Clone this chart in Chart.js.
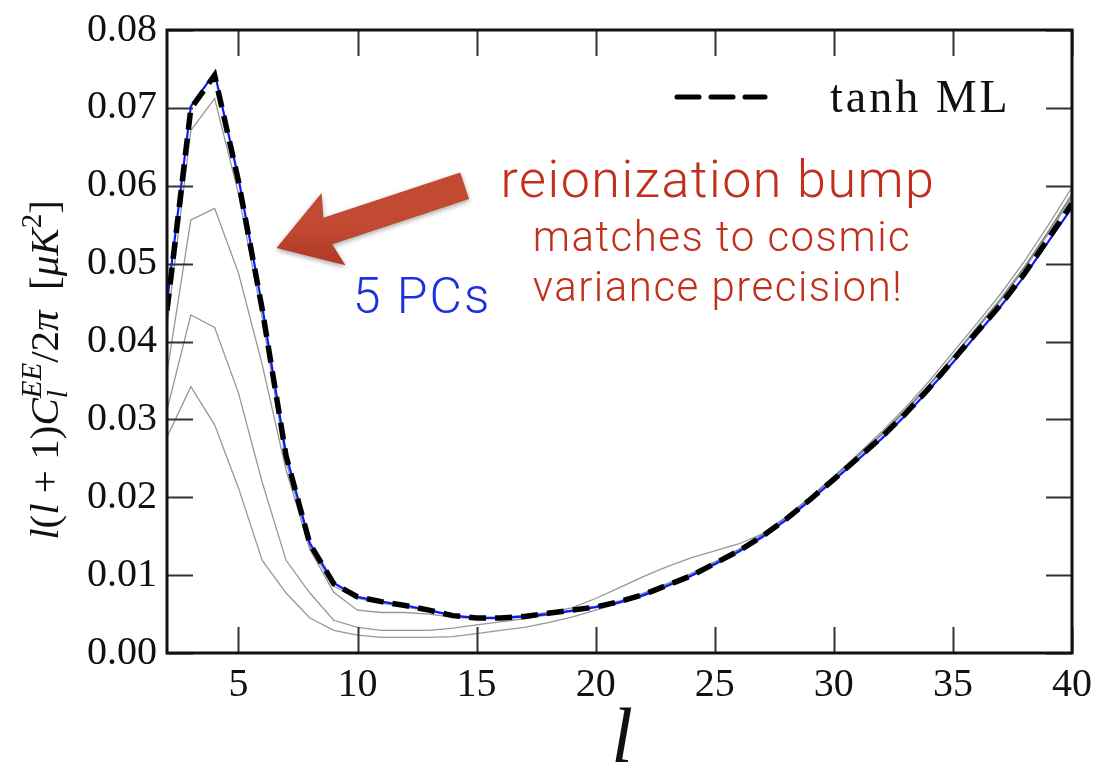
<!DOCTYPE html>
<html lang="en">
<head>
  <meta charset="UTF-8">
  <title>EE reionization bump</title>
  <script src="https://cdn.jsdelivr.net/npm/chart.js"></script>
  <style>
    body { margin: 0; background: #fff; }
    #wrap { width: 1104px; height: 772px; }
  </style>
</head>
<body>
  <div id="wrap"><canvas id="eeChart" width="1104" height="772"></canvas></div>

  <script>
    // multipoles
    const ell = [2, 3, 4, 5, 6, 7, 8, 9, 10, 11, 12, 13, 14, 15, 16, 17, 18, 19, 20,
                 21, 22, 23, 24, 25, 26, 27, 28, 29, 30, 31, 32, 33, 34, 35, 36, 37, 38, 39, 40];

    // l(l+1)C_l^EE/2pi, tanh ML model
    const tanhML = [0.0440, 0.0699, 0.0742, 0.0606, 0.0441, 0.0253, 0.0140, 0.0089, 0.0072,
                    0.0066, 0.0061, 0.0055, 0.0048, 0.0045, 0.0045, 0.0047, 0.0051, 0.0055, 0.0059,
                    0.0066, 0.0075, 0.0087, 0.0099, 0.0115, 0.0131, 0.0150, 0.0172, 0.0197, 0.0223,
                    0.0250, 0.0277, 0.0307, 0.0340, 0.0376, 0.0412, 0.0447, 0.0487, 0.0532, 0.0577];

    // 5 PC reconstruction
    const pc5 = [0.0450, 0.0702, 0.0745, 0.0610, 0.0445, 0.0255, 0.0141, 0.0090, 0.0072,
                 0.0066, 0.0061, 0.0055, 0.0048, 0.0045, 0.0045, 0.0047, 0.0050, 0.0054, 0.0059,
                 0.0065, 0.0074, 0.0086, 0.0099, 0.0114, 0.0130, 0.0149, 0.0171, 0.0196, 0.0222,
                 0.0248, 0.0275, 0.0305, 0.0338, 0.0373, 0.0409, 0.0445, 0.0484, 0.0528, 0.0572];

    // other reionization histories (thin grey)
    const hist1 = [0.0420, 0.0671, 0.0712, 0.0590, 0.0430, 0.0246, 0.0136, 0.0086, 0.0070,
                   0.0064, 0.0059, 0.0054, 0.0048, 0.0045, 0.0046, 0.0048, 0.0052, 0.0058, 0.0070,
                   0.0084, 0.0098, 0.0111, 0.0122, 0.0131, 0.0140, 0.0153, 0.0175, 0.0200, 0.0227,
                   0.0255, 0.0284, 0.0315, 0.0349, 0.0386, 0.0423, 0.0461, 0.0503, 0.0549, 0.0598];
    const hist2 = [0.0360, 0.0556, 0.0571, 0.0488, 0.0370, 0.0235, 0.0133, 0.0078, 0.0055,
                   0.0052, 0.0052, 0.0050, 0.0046, 0.0044, 0.0044, 0.0046, 0.0050, 0.0055, 0.0060,
                   0.0067, 0.0077, 0.0089, 0.0102, 0.0117, 0.0133, 0.0152, 0.0174, 0.0199, 0.0226,
                   0.0253, 0.0281, 0.0312, 0.0345, 0.0381, 0.0418, 0.0455, 0.0496, 0.0541, 0.0590];
    const hist3 = [0.0312, 0.0434, 0.0418, 0.0334, 0.0219, 0.0119, 0.0077, 0.0042, 0.0033,
                   0.0029, 0.0029, 0.0029, 0.0032, 0.0036, 0.0040, 0.0044, 0.0049, 0.0055, 0.0060,
                   0.0066, 0.0076, 0.0088, 0.0101, 0.0116, 0.0132, 0.0151, 0.0174, 0.0199, 0.0225,
                   0.0252, 0.0280, 0.0310, 0.0343, 0.0379, 0.0416, 0.0452, 0.0493, 0.0538, 0.0585];
    const hist4 = [0.0277, 0.0342, 0.0293, 0.0212, 0.0119, 0.0077, 0.0045, 0.0029, 0.0023,
                   0.0020, 0.0020, 0.0020, 0.0021, 0.0025, 0.0029, 0.0033, 0.0039, 0.0046, 0.0055,
                   0.0064, 0.0075, 0.0087, 0.0100, 0.0115, 0.0132, 0.0151, 0.0174, 0.0199, 0.0226,
                   0.0253, 0.0281, 0.0311, 0.0344, 0.0380, 0.0417, 0.0454, 0.0495, 0.0541, 0.0588];

    const xTicks = [5, 10, 15, 20, 25, 30, 35, 40];
    const yTicks = [0.00, 0.01, 0.02, 0.03, 0.04, 0.05, 0.06, 0.07, 0.08];

    const SERIF = "'Liberation Serif', 'Times New Roman', serif";
    const SANS = "'Roboto', 'Open Sans', sans-serif";

    const pts = arr => ell.map((l, i) => ({ x: l, y: arr[i] }));
    const grey = (arr) => ({
      data: pts(arr), borderColor: "rgba(125,125,125,0.8)", borderWidth: 1.3,
      pointRadius: 0, tension: 0, order: 3
    });

    // inward ticks on all four sides plus the frame
    const frameTicks = {
      id: "frameTicks",
      afterDatasetsDraw(chart) {
        const { ctx, chartArea: a, scales } = chart;
        const len = 26;
        ctx.save();
        ctx.strokeStyle = "#333";
        ctx.lineWidth = 2;
        ctx.beginPath();
        yTicks.forEach(v => {
          const y = Math.round(scales.y.getPixelForValue(v)) + 0.5;
          ctx.moveTo(a.left, y); ctx.lineTo(a.left + len, y);
          ctx.moveTo(a.right, y); ctx.lineTo(a.right - len, y);
        });
        xTicks.forEach(v => {
          const x = Math.round(scales.x.getPixelForValue(v)) + 0.5;
          ctx.moveTo(x, a.bottom); ctx.lineTo(x, a.bottom - len);
          ctx.moveTo(x, a.top); ctx.lineTo(x, a.top + len);
        });
        ctx.stroke();
        ctx.strokeStyle = "#111";
        ctx.lineWidth = 3;
        ctx.strokeRect(a.left, a.top, a.right - a.left, a.bottom - a.top);
        ctx.restore();
      }
    };

    // y label with sub/superscripts, x label, legend and annotations
    const labels = {
      id: "labels",
      afterDraw(chart) {
        const { ctx, scales } = chart;
        ctx.save();

        // y axis title: l(l+1)C_l^{EE}/2π [μK²]
        const fs = 41, fsS = 29;
        const it = s => `italic ${s}px ${SERIF}`;
        const rm = s => `${s}px ${SERIF}`;
        const segs = [
          { t: "l", f: it(fs) }, { t: "(", f: rm(fs) }, { t: "l", f: it(fs) },
          { t: " + 1)", f: rm(fs) }, { t: "C", f: it(fs) },
          { t: "l", f: it(fsS), dy: 9, stack: true }, { t: "EE", f: it(fsS), dy: -17 },
          { t: "/2", f: rm(fs) }, { t: "π", f: it(fs) }, { t: "  [", f: rm(fs) },
          { t: "μK", f: it(fs) }, { t: "2", f: rm(fsS), dy: -17 }, { t: "]", f: rm(fs) }
        ];
        let total = 0, held = 0;
        segs.forEach(s => {
          ctx.font = s.f;
          s.w = ctx.measureText(s.t).width;
          if (s.stack) { held = s.w; s.adv = 0; }
          else { s.adv = Math.max(s.w, held); held = 0; }
          total += s.adv;
        });
        ctx.translate(58, 370);
        ctx.rotate(-Math.PI / 2);
        ctx.fillStyle = "#111";
        ctx.textBaseline = "alphabetic";
        ctx.textAlign = "left";
        let cx = -total / 2;
        segs.forEach(s => {
          ctx.font = s.f;
          ctx.fillText(s.t, cx, s.dy || 0);
          cx += s.adv;
        });
        ctx.setTransform(1, 0, 0, 1, 0, 0);

        // x axis title
        ctx.font = `italic 78px ${SERIF}`;
        ctx.textAlign = "center";
        ctx.fillText("l", 622, 762);

        // legend entry for the dashed model
        ctx.strokeStyle = "#000";
        ctx.lineWidth = 5;
        ctx.lineCap = "round";
        ctx.setLineDash([22, 12]);
        ctx.beginPath();
        ctx.moveTo(677, 97); ctx.lineTo(765, 97);
        ctx.stroke();
        ctx.setLineDash([]);
        ctx.font = `46px ${SERIF}`;
        ctx.letterSpacing = "3px";
        ctx.textAlign = "left";
        ctx.fillText("tanh ML", 830, 112);

        // arrow pointing at the bump
        const tip = { x: scales.x.getPixelForValue(6.6), y: scales.y.getPixelForValue(0.052) };
        const tail = { x: scales.x.getPixelForValue(14.5), y: scales.y.getPixelForValue(0.0600) };
        const dx = tail.x - tip.x, dy = tail.y - tip.y, L = Math.hypot(dx, dy);
        const ux = dx / L, uy = dy / L, nx = -uy, ny = ux;
        const hl = 60, hw = 38, sw = 14;
        const P = (a, b) => [tip.x + ux * a + nx * b, tip.y + uy * a + ny * b];
        const poly = [P(0, 0), P(hl, hw), P(hl - 6, sw), P(L, sw), P(L, -sw), P(hl - 6, -sw), P(hl, -hw)];
        const g = ctx.createLinearGradient(tip.x, tip.y - 20, tip.x, tip.y + 30);
        g.addColorStop(0, "#c24a33");
        g.addColorStop(1, "#a8301f");
        ctx.fillStyle = g;
        ctx.shadowColor = "rgba(0,0,0,0.35)";
        ctx.shadowBlur = 5;
        ctx.shadowOffsetY = 2;
        ctx.beginPath();
        poly.forEach((p, i) => i ? ctx.lineTo(p[0], p[1]) : ctx.moveTo(p[0], p[1]));
        ctx.closePath();
        ctx.fill();
        ctx.shadowColor = "transparent";

        // annotation text
        ctx.textAlign = "center";
        ctx.fillStyle = "#c0301c";
        ctx.font = `300 52px ${SANS}`;
        ctx.letterSpacing = "1.5px";
        ctx.fillText("reionization bump", 718, 197);
        ctx.font = `300 42px ${SANS}`;
        ctx.fillText("matches to cosmic", 722, 251);
        ctx.fillText("variance precision!", 718, 301);
        ctx.fillStyle = "#1f2fe0";
        ctx.font = `300 50px ${SANS}`;
        ctx.letterSpacing = "2px";
        ctx.fillText("5 PCs", 422, 313);
        ctx.restore();
      }
    };

    new Chart(document.getElementById("eeChart"), {
      type: "line",
      data: {
        datasets: [
          grey(hist4), grey(hist3), grey(hist2), grey(hist1),
          { label: "5 PCs", data: pts(pc5), borderColor: "#0a1cff", borderWidth: 2.2,
            pointRadius: 0, tension: 0, order: 2 },
          { label: "tanh ML", data: pts(tanhML), borderColor: "#000", borderWidth: 5.5,
            borderDash: [17, 9], pointRadius: 0, tension: 0, order: 1 }
        ]
      },
      options: {
        responsive: false,
        animation: false,
        layout: { padding: { top: 26, right: 27, left: 0, bottom: 0 } },
        plugins: { legend: { display: false }, tooltip: { enabled: false } },
        scales: {
          x: {
            type: "linear", min: 2, max: 40,
            grid: { display: false, drawTicks: false },
            border: { display: false },
            afterBuildTicks: s => { s.ticks = xTicks.map(v => ({ value: v })); },
            afterFit: s => { s.height = 119; },
            ticks: { font: { family: SERIF, size: 40, lineHeight: 1 }, color: "#111", padding: 12, maxRotation: 0 }
          },
          y: {
            min: 0, max: 0.08,
            grid: { display: false, drawTicks: false },
            border: { display: false },
            afterBuildTicks: s => { s.ticks = yTicks.map(v => ({ value: v })); },
            afterFit: s => { s.width = 167; },
            ticks: { font: { family: SERIF, size: 40, lineHeight: 1 }, color: "#111", padding: 10,
                     callback: v => v.toFixed(2) }
          }
        }
      },
      plugins: [frameTicks, labels]
    });
  </script>
</body>
</html>
